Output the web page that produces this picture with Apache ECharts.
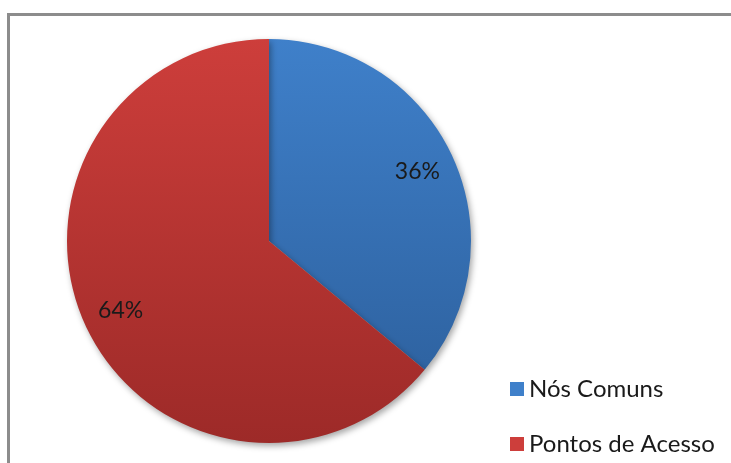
<!DOCTYPE html>
<html>
<head>
<meta charset="utf-8">
<script src="https://cdn.jsdelivr.net/npm/echarts@6/dist/echarts.min.js"></script>
<style>
  html, body { margin: 0; padding: 0; background: #fff; }
  #box { width: 731px; height: 463px; }
</style>
</head>
<body>
<div id="box"></div>
<script>
var categories = ['Nós Comuns', 'Pontos de Acesso'];
var values = [36, 64];
var topColors = ['#3f80ca', '#cd3e3b'];
var bottomColors = ['#2b5d99', '#9d2a28'];
var legendTops = [372, 427];

var chart = echarts.init(document.getElementById('box'));

function grad(i) {
    return new echarts.graphic.LinearGradient(0, 38, 0, 443, [
        { offset: 0, color: topColors[i] },
        { offset: 1, color: bottomColors[i] }
    ], true);
}

var pieData = categories.map(function (name, i) {
    return { name: name, value: values[i], itemStyle: { color: grad(i) } };
});
var labelData = categories.map(function (name, i) {
    return { name: name, value: values[i] };
});

// one legend per entry so the two rows keep their own spacing
var legends = categories.map(function (name, i) {
    return {
        orient: 'vertical',
        left: 505,
        top: legendTops[i],
        itemWidth: 14,
        itemHeight: 14,
        itemGap: 6,
        icon: 'rect',
        data: [name],
        textStyle: { fontFamily: 'Lato', fontSize: 24, color: '#1a1a1a' }
    };
});

var option = {
    animation: false,
    graphic: [{
        type: 'rect',
        shape: { x: 8.5, y: 14.5, width: 760, height: 500 },
        style: { fill: 'none', stroke: '#8c8c8c', lineWidth: 3 },
        z: 0
    }],
    legend: legends,
    series: [
        {
            type: 'pie',
            center: [269, 241],
            radius: 202,
            startAngle: 90,
            clockwise: true,
            silent: true,
            label: { show: false },
            labelLine: { show: false },
            itemStyle: {
                shadowBlur: 6,
                shadowOffsetX: 2,
                shadowOffsetY: 3,
                shadowColor: 'rgba(0,0,0,0.35)'
            },
            data: pieData
        },
        {
            type: 'pie',
            center: [269, 241],
            radius: [120, 202],
            startAngle: 90,
            clockwise: true,
            silent: true,
            legendHoverLink: false,
            itemStyle: { color: 'rgba(0,0,0,0)' },
            label: {
                show: true,
                position: 'inside',
                formatter: '{c}%',
                fontFamily: 'Lato',
                fontSize: 23,
                color: '#1a1a1a'
            },
            labelLine: { show: false },
            data: labelData
        }
    ]
};
chart.setOption(option);
</script>
</body>
</html>
